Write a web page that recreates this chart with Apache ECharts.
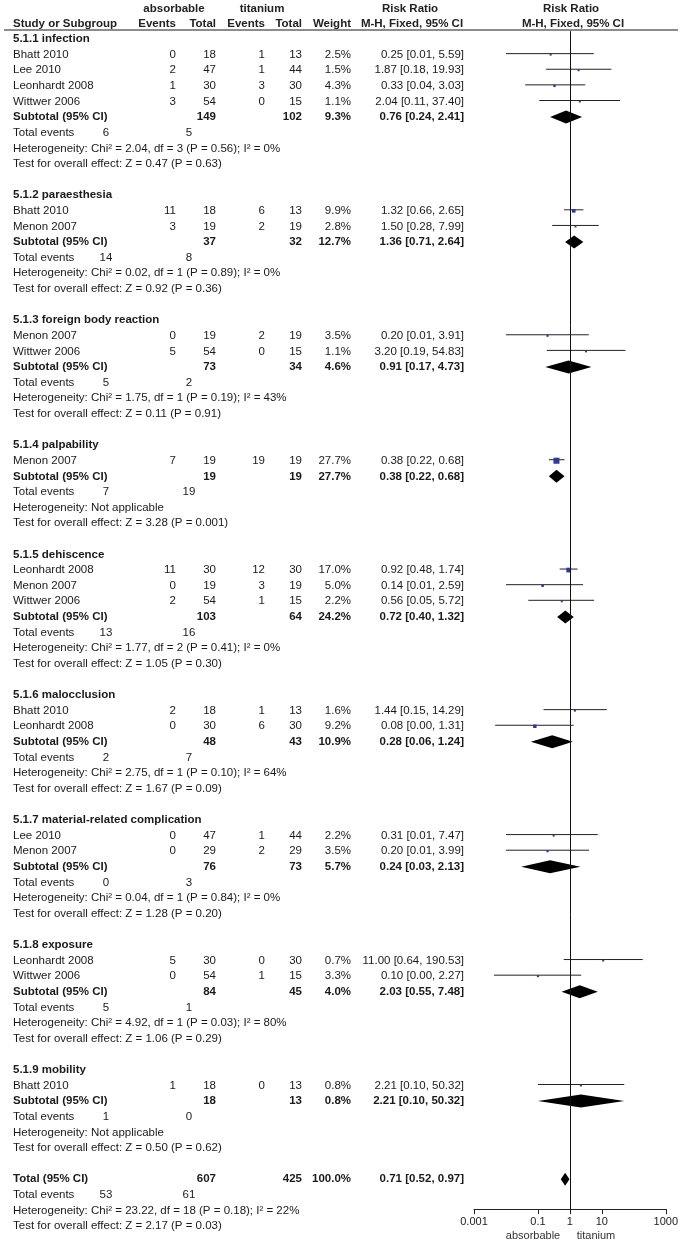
<!DOCTYPE html>
<html>
<head>
<meta charset="utf-8">
<title>Forest plot</title>
<script src="https://cdn.jsdelivr.net/npm/echarts@6/dist/echarts.min.js"></script>
<style>
    html, body { margin: 0; padding: 0; background: #fff; }
    #chart { width: 681px; height: 1244px; }
</style>
</head>
<body>
<div id="chart"></div>
<script>
// Subgroups
const groupTitles = ['5.1.1 infection', '5.1.2 paraesthesia', '5.1.3 foreign body reaction', '5.1.4 palpability',
    '5.1.5 dehiscence', '5.1.6 malocclusion', '5.1.7 material-related complication', '5.1.8 exposure', '5.1.9 mobility'];

// Studies (group index, counts, weight, risk ratio with CI)
const studyGroup   = [0, 0, 0, 0, 1, 1, 2, 2, 3, 4, 4, 4, 5, 5, 6, 6, 7, 7, 8];
const studyNames   = ['Bhatt 2010', 'Lee 2010', 'Leonhardt 2008', 'Wittwer 2006', 'Bhatt 2010', 'Menon 2007',
    'Menon 2007', 'Wittwer 2006', 'Menon 2007', 'Leonhardt 2008', 'Menon 2007', 'Wittwer 2006',
    'Bhatt 2010', 'Leonhardt 2008', 'Lee 2010', 'Menon 2007', 'Leonhardt 2008', 'Wittwer 2006', 'Bhatt 2010'];
const studyEventsA = [0, 2, 1, 3, 11, 3, 0, 5, 7, 11, 0, 2, 2, 0, 0, 0, 5, 0, 1];
const studyTotalA  = [18, 47, 30, 54, 18, 19, 19, 54, 19, 30, 19, 54, 18, 30, 47, 29, 30, 54, 18];
const studyEventsT = [1, 1, 3, 0, 6, 2, 2, 0, 19, 12, 3, 1, 1, 6, 1, 2, 0, 1, 0];
const studyTotalT  = [13, 44, 30, 15, 13, 19, 19, 15, 19, 30, 19, 15, 13, 30, 44, 29, 30, 15, 13];
const studyWeight  = [2.5, 1.5, 4.3, 1.1, 9.9, 2.8, 3.5, 1.1, 27.7, 17.0, 5.0, 2.2, 1.6, 9.2, 2.2, 3.5, 0.7, 3.3, 0.8];
const studyRR      = [0.25, 1.87, 0.33, 2.04, 1.32, 1.50, 0.20, 3.20, 0.38, 0.92, 0.14, 0.56, 1.44, 0.08, 0.31, 0.20, 11.00, 0.10, 2.21];
const studyLow     = [0.01, 0.18, 0.04, 0.11, 0.66, 0.28, 0.01, 0.19, 0.22, 0.48, 0.01, 0.05, 0.15, 0.0046, 0.01, 0.01, 0.64, 0.0042, 0.10];
const studyHigh    = [5.59, 19.93, 3.03, 37.40, 2.65, 7.99, 3.91, 54.83, 0.68, 1.74, 2.59, 5.72, 14.29, 1.31, 7.47, 3.99, 190.53, 2.27, 50.32];

// Subtotals per subgroup
const subTotalA  = [149, 37, 73, 19, 103, 48, 76, 84, 18];
const subTotalT  = [102, 32, 34, 19, 64, 43, 73, 45, 13];
const subWeight  = [9.3, 12.7, 4.6, 27.7, 24.2, 10.9, 5.7, 4.0, 0.8];
const subRR      = [0.76, 1.36, 0.91, 0.38, 0.72, 0.28, 0.24, 2.03, 2.21];
const subLow     = [0.24, 0.71, 0.17, 0.22, 0.40, 0.06, 0.03, 0.55, 0.10];
const subHigh    = [2.41, 2.64, 4.73, 0.68, 1.32, 1.24, 2.13, 7.48, 50.32];
const subEventsA = [6, 14, 5, 7, 13, 2, 0, 5, 1];
const subEventsT = [5, 8, 2, 19, 16, 7, 3, 1, 0];
const subHeterogeneity = [
    'Heterogeneity: Chi² = 2.04, df = 3 (P = 0.56); I² = 0%',
    'Heterogeneity: Chi² = 0.02, df = 1 (P = 0.89); I² = 0%',
    'Heterogeneity: Chi² = 1.75, df = 1 (P = 0.19); I² = 43%',
    'Heterogeneity: Not applicable',
    'Heterogeneity: Chi² = 1.77, df = 2 (P = 0.41); I² = 0%',
    'Heterogeneity: Chi² = 2.75, df = 1 (P = 0.10); I² = 64%',
    'Heterogeneity: Chi² = 0.04, df = 1 (P = 0.84); I² = 0%',
    'Heterogeneity: Chi² = 4.92, df = 1 (P = 0.03); I² = 80%',
    'Heterogeneity: Not applicable'
];
const subOverallEffect = [
    'Test for overall effect: Z = 0.47 (P = 0.63)',
    'Test for overall effect: Z = 0.92 (P = 0.36)',
    'Test for overall effect: Z = 0.11 (P = 0.91)',
    'Test for overall effect: Z = 3.28 (P = 0.001)',
    'Test for overall effect: Z = 1.05 (P = 0.30)',
    'Test for overall effect: Z = 1.67 (P = 0.09)',
    'Test for overall effect: Z = 1.28 (P = 0.20)',
    'Test for overall effect: Z = 1.06 (P = 0.29)',
    'Test for overall effect: Z = 0.50 (P = 0.62)'
];

// Overall
const overallTotals = [607, 425];
const overallWeight = 100.0;
const overallEstimate = [0.71, 0.52, 0.97];
const overallEvents = [53, 61];
const overallHeterogeneity = 'Heterogeneity: Chi² = 23.22, df = 18 (P = 0.18); I² = 22%';
const overallEffect = 'Test for overall effect: Z = 2.17 (P = 0.03)';

// Axis ticks
const tickValues = [0.001, 0.1, 1, 10, 1000];
const tickLabels = ['0.001', '0.1', '1', '10', '1000'];
const sideLabels = ['absorbable', 'titanium'];

const FONT = '"Liberation Sans", Arial, Helvetica, sans-serif';
const TEXT_COLOR = '#1a1a1a';

// column anchors (px)
const COL = { name: 13, evA: 176, totA: 216, evT: 265, totT: 302, weight: 351, ci: 464, sumA: 106, sumT: 189 };

/**
 * Build the list of table rows in display order
 */
function buildRows() {
    const rows = [];
    groupTitles.forEach((title, g) => {
        rows.push({ type: 'group', g });
        studyGroup.forEach((sg, i) => {
            if (sg === g) rows.push({ type: 'study', i });
        });
        rows.push({ type: 'subtotal', g });
        rows.push({ type: 'events', g });
        rows.push({ type: 'het', g });
        rows.push({ type: 'test', g });
        rows.push({ type: 'blank' });
    });
    rows.push({ type: 'total' });
    rows.push({ type: 'totalEvents' });
    rows.push({ type: 'totalHet' });
    rows.push({ type: 'totalTest' });
    return rows;
}

const rows = buildRows();

function ciText(rr, lo, hi) {
    return `${rr.toFixed(2)} [${lo.toFixed(2)}, ${hi.toFixed(2)}]`;
}

function textEl(x, y, text, align, bold) {
    return {
        type: 'text',
        x: x,
        y: y,
        style: {
            text: String(text),
            align: align,
            verticalAlign: 'middle',
            font: (bold ? 'bold ' : '') + '11.5px ' + FONT,
            fill: TEXT_COLOR
        }
    };
}

function renderTableRow(params, api) {
    const row = rows[params.dataIndex];
    const y = api.coord([0, api.value(1)])[1];
    const c = [];
    if (row.type === 'group') {
        c.push(textEl(COL.name, y, groupTitles[row.g], 'left', true));
    } else if (row.type === 'study') {
        const i = row.i;
        c.push(textEl(COL.name, y, studyNames[i], 'left', false));
        c.push(textEl(COL.evA, y, studyEventsA[i], 'right', false));
        c.push(textEl(COL.totA, y, studyTotalA[i], 'right', false));
        c.push(textEl(COL.evT, y, studyEventsT[i], 'right', false));
        c.push(textEl(COL.totT, y, studyTotalT[i], 'right', false));
        c.push(textEl(COL.weight, y, studyWeight[i].toFixed(1) + '%', 'right', false));
        c.push(textEl(COL.ci, y, ciText(studyRR[i], studyLow[i], studyHigh[i]), 'right', false));
    } else if (row.type === 'subtotal') {
        const g = row.g;
        c.push(textEl(COL.name, y, 'Subtotal (95% CI)', 'left', true));
        c.push(textEl(COL.totA, y, subTotalA[g], 'right', true));
        c.push(textEl(COL.totT, y, subTotalT[g], 'right', true));
        c.push(textEl(COL.weight, y, subWeight[g].toFixed(1) + '%', 'right', true));
        c.push(textEl(COL.ci, y, ciText(subRR[g], subLow[g], subHigh[g]), 'right', true));
    } else if (row.type === 'events') {
        c.push(textEl(COL.name, y, 'Total events', 'left', false));
        c.push(textEl(COL.sumA, y, subEventsA[row.g], 'center', false));
        c.push(textEl(COL.sumT, y, subEventsT[row.g], 'center', false));
    } else if (row.type === 'het') {
        c.push(textEl(COL.name, y, subHeterogeneity[row.g], 'left', false));
    } else if (row.type === 'test') {
        c.push(textEl(COL.name, y, subOverallEffect[row.g], 'left', false));
    } else if (row.type === 'total') {
        c.push(textEl(COL.name, y, 'Total (95% CI)', 'left', true));
        c.push(textEl(COL.totA, y, overallTotals[0], 'right', true));
        c.push(textEl(COL.totT, y, overallTotals[1], 'right', true));
        c.push(textEl(COL.weight, y, overallWeight.toFixed(1) + '%', 'right', true));
        c.push(textEl(COL.ci, y, ciText(overallEstimate[0], overallEstimate[1], overallEstimate[2]), 'right', true));
    } else if (row.type === 'totalEvents') {
        c.push(textEl(COL.name, y, 'Total events', 'left', false));
        c.push(textEl(COL.sumA, y, overallEvents[0], 'center', false));
        c.push(textEl(COL.sumT, y, overallEvents[1], 'center', false));
    } else if (row.type === 'totalHet') {
        c.push(textEl(COL.name, y, overallHeterogeneity, 'left', false));
    } else if (row.type === 'totalTest') {
        c.push(textEl(COL.name, y, overallEffect, 'left', false));
    }
    return { type: 'group', children: c };
}

// Study points: [log rr, row, log lo, log hi, weight]
const studyData = [];
// Diamonds: [log rr, row, log lo, log hi]
const diamondData = [];
rows.forEach((row, r) => {
    if (row.type === 'study') {
        const i = row.i;
        studyData.push([Math.log10(studyRR[i]), r, Math.log10(studyLow[i]), Math.log10(studyHigh[i]), studyWeight[i]]);
    } else if (row.type === 'subtotal') {
        const g = row.g;
        diamondData.push([Math.log10(subRR[g]), r, Math.log10(subLow[g]), Math.log10(subHigh[g])]);
    } else if (row.type === 'total') {
        diamondData.push([Math.log10(overallEstimate[0]), r, Math.log10(overallEstimate[1]), Math.log10(overallEstimate[2])]);
    }
});

function renderStudy(params, api) {
    const r = api.value(1);
    const lo = api.coord([api.value(2), r]);
    const hi = api.coord([api.value(3), r]);
    const mid = api.coord([api.value(0), r]);
    const size = Math.max(2, 1.15 * Math.sqrt(api.value(4)));
    return {
        type: 'group',
        children: [
            {
                type: 'line',
                shape: { x1: lo[0], y1: lo[1] - 1, x2: hi[0], y2: hi[1] - 1 },
                style: { stroke: '#222', lineWidth: 1 }
            },
            {
                type: 'rect',
                shape: { x: mid[0] - size / 2, y: mid[1] - size / 2, width: size, height: size },
                style: { fill: '#2e3a92' }
            }
        ]
    };
}

function renderDiamond(params, api) {
    const r = api.value(1);
    const lo = api.coord([api.value(2), r]);
    const hi = api.coord([api.value(3), r]);
    const mid = api.coord([api.value(0), r]);
    const h = 6.5;
    return {
        type: 'polygon',
        shape: { points: [[lo[0], lo[1]], [mid[0], mid[1] - h], [hi[0], hi[1]], [mid[0], mid[1] + h]] },
        style: { fill: '#000' }
    };
}

const chart = echarts.init(document.getElementById('chart'), null, { renderer: 'canvas' });

const tickLogs = tickValues.map(v => Math.log10(v));

function headerText(x, y, text, align) {
    return { type: 'text', x: x, y: y, style: { text: text, align: align, verticalAlign: 'middle', font: 'bold 11.5px ' + FONT, fill: '#222' } };
}

const option = {
    animation: false,
    backgroundColor: '#fff',
    grid: { left: 474, width: 192, top: 31.2, height: 1178 },
    xAxis: {
        type: 'value',
        min: -3,
        max: 3,
        position: 'bottom',
        axisLine: { show: true, onZero: false, lineStyle: { color: '#222', width: 1 } },
        axisTick: { show: true, customValues: tickLogs, length: 5, lineStyle: { color: '#222' } },
        axisLabel: {
            customValues: tickLogs,
            margin: 7,
            color: '#222',
            fontSize: 11,
            fontFamily: FONT,
            formatter: v => tickLabels[tickLogs.findIndex(t => Math.abs(t - v) < 1e-9)] || ''
        },
        splitLine: { show: false }
    },
    yAxis: {
        type: 'value',
        inverse: true,
        min: -0.5,
        max: 74.92,
        show: false
    },
    series: [
        {
            name: 'table',
            type: 'custom',
            silent: true,
            clip: false,
            renderItem: renderTableRow,
            data: rows.map((row, r) => [0, r]),
            markLine: {
                silent: true,
                symbol: 'none',
                label: { show: false },
                lineStyle: { color: '#111', width: 1, type: 'solid' },
                data: [{ xAxis: 0 }]
            }
        },
        {
            name: 'studies',
            type: 'custom',
            silent: true,
            clip: false,
            renderItem: renderStudy,
            data: studyData
        },
        {
            name: 'pooled',
            type: 'custom',
            silent: true,
            clip: false,
            renderItem: renderDiamond,
            data: diamondData
        }
    ],
    graphic: [
        // header line
        { type: 'line', shape: { x1: 4, y1: 30, x2: 678, y2: 30 }, style: { stroke: '#666', lineWidth: 1.5 } },
        // header texts, top row
        headerText(174, 9, 'absorbable', 'center'),
        headerText(262, 9, 'titanium', 'center'),
        headerText(410, 9, 'Risk Ratio', 'center'),
        headerText(571, 9, 'Risk Ratio', 'center'),
        // header texts, second row
        headerText(COL.name, 24, 'Study or Subgroup', 'left'),
        headerText(COL.evA, 24, 'Events', 'right'),
        headerText(COL.totA, 24, 'Total', 'right'),
        headerText(COL.evT, 24, 'Events', 'right'),
        headerText(COL.totT, 24, 'Total', 'right'),
        headerText(COL.weight, 24, 'Weight', 'right'),
        headerText(412, 24, 'M-H, Fixed, 95% CI', 'center'),
        headerText(573, 24, 'M-H, Fixed, 95% CI', 'center'),
        // side labels under the axis
        { type: 'text', x: 533, y: 1236, style: { text: sideLabels[0], align: 'center', verticalAlign: 'middle', font: '11px ' + FONT, fill: '#333' } },
        { type: 'text', x: 596, y: 1236, style: { text: sideLabels[1], align: 'center', verticalAlign: 'middle', font: '11px ' + FONT, fill: '#333' } }
    ]
};

chart.setOption(option);
</script>
</body>
</html>
